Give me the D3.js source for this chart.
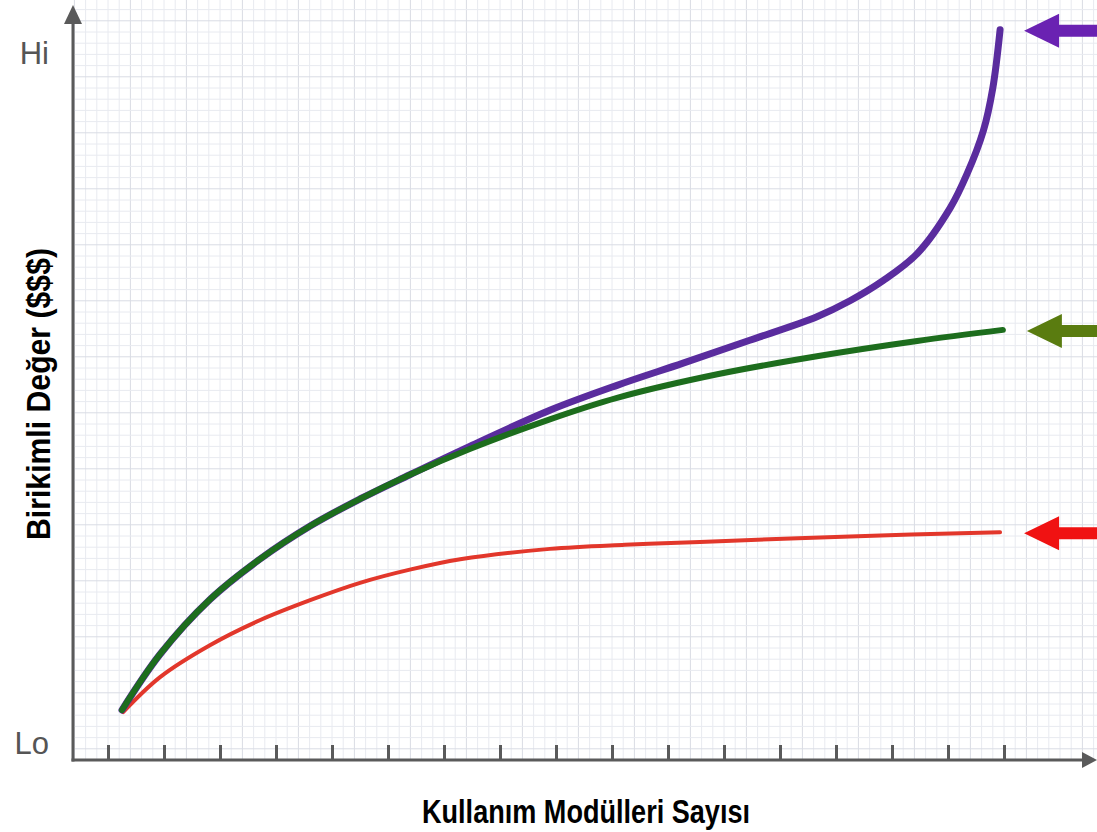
<!DOCTYPE html>
<html>
<head>
<meta charset="utf-8">
<script src="https://cdn.jsdelivr.net/npm/d3@7"></script>
<style>
  html, body { margin: 0; padding: 0; background: #fff; }
  svg { display: block; }
</style>
</head>
<body>
<svg id="chart"></svg>
<script>
// module count (x) and cumulative value (0 = Lo, 100 = Hi)
const moduleTicks = d3.range(0, 17);
const purpleX = [0.25, 0.93, 1.82, 2.71, 3.61, 4.5, 5.39, 6.46, 7.89, 9.09, 10.27, 11.46, 12.66, 13.25, 13.84, 14.45, 15.04, 15.34, 15.63, 15.8, 15.93];
const purpleValues = [5.05, 13.1, 21.0, 26.8, 31.6, 35.5, 39.0, 43.1, 48.3, 51.9, 55.1, 58.4, 61.8, 64.1, 67.0, 70.9, 77.5, 82.4, 88.6, 94.8, 103.2];
const greenX = [0.25, 0.93, 1.82, 2.71, 3.61, 4.5, 5.39, 6.46, 7.89, 9.09, 10.88, 12.66, 14.45, 15.98];
const greenValues = [5.05, 13.1, 21.0, 26.8, 31.6, 35.5, 39.0, 42.7, 47.0, 50.1, 53.5, 56.1, 58.3, 59.9];
const redX = [0.27, 0.93, 1.82, 2.71, 3.61, 4.5, 5.39, 6.29, 7.89, 9.23, 10.57, 13.25, 15.93];
const redValues = [4.76, 9.8, 14.4, 18.0, 20.9, 23.4, 25.3, 26.8, 28.3, 28.9, 29.3, 30.1, 30.7];
const axisLabels = ['Lo', 'Hi'];

const width = 1097, height = 832;
const axisColor = '#5a5a5a';

const svg = d3.select('#chart')
  .attr('width', width)
  .attr('height', height)
  .attr('viewBox', `0 0 ${width} ${height}`);

const x = d3.scaleLinear().domain([0, 16]).range([108, 1004]);
const y = d3.scaleLinear().domain([0, 100]).range([745, 52]);

const axisX = 73, axisY = 760;

// Graph-paper grid (5 cells per tick)
const step = (x(1) - x(0)) / 5;
const grid = svg.append('g');
const xLines = d3.range(0, Math.ceil((width - axisX) / step) + 6)
  .map(i => x(0) + (i - 3) * step)
  .filter(v => v > axisX + 1 && v < width);
const yLines = d3.range(0, Math.ceil(axisY / step) + 1)
  .map(i => axisY - i * step)
  .filter(v => v >= 0 && v < axisY - 1);

grid.selectAll('line.v')
  .data(xLines)
  .enter()
  .append('line')
    .attr('x1', d => d).attr('x2', d => d)
    .attr('y1', 0).attr('y2', axisY)
    .attr('stroke', (d, i) => i % 5 === 0 ? '#d9dce4' : '#e8eaf0')
    .attr('stroke-width', 1);

grid.selectAll('line.h')
  .data(yLines)
  .enter()
  .append('line')
    .attr('x1', axisX).attr('x2', width)
    .attr('y1', d => d).attr('y2', d => d)
    .attr('stroke', (d, i) => i % 5 === 0 ? '#d9dce4' : '#e8eaf0')
    .attr('stroke-width', 1);

// Curves
const line = d3.line()
  .x(d => x(d[0]))
  .y(d => y(d[1]))
  .curve(d3.curveCatmullRom.alpha(0.5));

const series = [
  { key: 'red', xs: redX, vs: redValues, color: '#e2372b', arrow: '#f01212', w: 4 },
  { key: 'purple', xs: purpleX, vs: purpleValues, color: '#5a2c9e', arrow: '#6a22b2', w: 7 },
  { key: 'green', xs: greenX, vs: greenValues, color: '#1d6d1d', arrow: '#5a7c10', w: 6 }
];

svg.append('g')
  .selectAll('path')
  .data(series)
  .enter()
  .append('path')
    .attr('d', d => line(d.xs.map((v, i) => [v, d.vs[i]])))
    .attr('fill', 'none')
    .attr('stroke', d => d.color)
    .attr('stroke-width', d => d.w)
    .attr('stroke-linecap', 'round')
    .attr('stroke-linejoin', 'round');

// Arrows pointing at the curve ends
svg.append('g')
  .selectAll('path')
  .data(series)
  .enter()
  .append('path')
    .attr('d', 'M0,0 L35,-17 L35,-6 L90,-6 L90,6 L35,6 L35,17 Z')
    .attr('transform', d => `translate(${x(d.xs[d.xs.length - 1]) + 24},${y(d.vs[d.vs.length - 1]) + 1})`)
    .attr('fill', d => d.arrow);

// X-axis ticks
svg.append('g')
  .attr('transform', `translate(0,${axisY})`)
  .call(d3.axisBottom(x).tickValues(moduleTicks).tickSize(-15).tickSizeOuter(0).tickFormat(''))
  .call(g => g.select('.domain').remove())
  .call(g => g.selectAll('.tick line')
    .attr('stroke', axisColor)
    .attr('stroke-width', 3));

// Axis lines with arrowheads
svg.append('line')
  .attr('x1', axisX).attr('x2', axisX)
  .attr('y1', axisY + 1.5).attr('y2', 22)
  .attr('stroke', axisColor).attr('stroke-width', 3);
svg.append('path')
  .attr('d', `M${axisX},5 L${axisX + 9},24 L${axisX - 9},24 Z`)
  .attr('fill', axisColor);

svg.append('line')
  .attr('x1', axisX - 1.5).attr('x2', 1084)
  .attr('y1', axisY).attr('y2', axisY)
  .attr('stroke', axisColor).attr('stroke-width', 3);
svg.append('path')
  .attr('d', `M1097,${axisY} L1082,${axisY - 8} L1082,${axisY + 8} Z`)
  .attr('fill', axisColor);

// Lo / Hi labels
svg.append('g')
  .selectAll('text')
  .data(axisLabels)
  .enter()
  .append('text')
    .attr('x', 49)
    .attr('y', (d, i) => i === 0 ? y(0) - 2 : y(100) + 1)
    .attr('text-anchor', 'end')
    .attr('dominant-baseline', 'central')
    .style('font', '31px "Liberation Sans", Arial, sans-serif')
    .attr('fill', '#555')
    .text(d => d);

// Axis titles (condensed bold)
const titleFont = 'bold 34px "Liberation Sans Narrow", "Arial Narrow", "Liberation Sans", sans-serif';

svg.append('text')
  .attr('transform', 'translate(50,394) rotate(-90)')
  .attr('text-anchor', 'middle')
  .attr('textLength', 292)
  .attr('lengthAdjust', 'spacingAndGlyphs')
  .style('font', titleFont)
  .attr('fill', '#000')
  .text('Birikimli Değer ($$$)');

svg.append('text')
  .attr('x', 586)
  .attr('y', 823)
  .attr('text-anchor', 'middle')
  .attr('textLength', 328)
  .attr('lengthAdjust', 'spacingAndGlyphs')
  .style('font', titleFont)
  .attr('fill', '#000')
  .text('Kullanım Modülleri Sayısı');
</script>
</body>
</html>
